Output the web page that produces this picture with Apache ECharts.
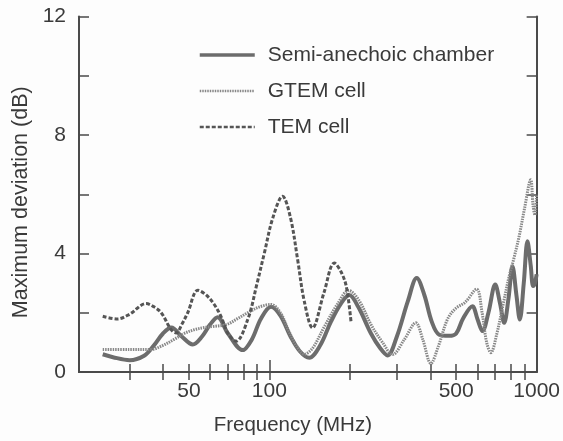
<!DOCTYPE html>
<html><head><meta charset="utf-8">
<script src="https://cdn.jsdelivr.net/npm/echarts@6/dist/echarts.min.js"></script>
<style>html,body{margin:0;padding:0;background:#fff}#c{width:563px;height:441px}</style>
</head><body><div id="c"></div>
<script>
// Frequency (MHz) and maximum deviation (dB)
const sacFreq = [23.8, 26, 30, 34, 37, 40, 43, 47, 51.7, 56, 60, 64, 70, 79.5, 86, 93, 101.5, 110, 120, 130, 141, 155, 170, 185, 199, 215, 240, 260, 277, 300, 330, 356, 380, 405, 432, 470, 500, 530, 575, 600, 627, 660, 700, 730, 756, 785, 812, 840, 865, 895, 924, 950, 970, 985, 1000];
const sacDev  = [0.6, 0.5, 0.4, 0.55, 0.9, 1.3, 1.5, 1.2, 0.93, 1.2, 1.6, 1.85, 1.3, 0.74, 1.1, 1.8, 2.2, 1.9, 1.2, 0.7, 0.48, 0.9, 1.7, 2.3, 2.6, 2.2, 1.3, 0.8, 0.56, 1.2, 2.4, 3.17, 2.6, 1.7, 1.26, 1.22, 1.3, 1.8, 2.22, 1.8, 1.38, 2.0, 2.95, 2.3, 1.66, 2.5, 3.57, 2.6, 1.77, 3.0, 4.41, 3.6, 2.9, 3.0, 3.3];

const gtemFreq = [23.8, 30, 36, 40, 44, 48, 52.5, 57, 62, 69, 76, 83, 92, 101.5, 110, 118, 126, 135, 145, 160, 180, 198, 217, 240, 265, 289, 320, 353, 375, 402, 430, 465, 500, 540, 596, 625, 650, 674, 710, 750, 789, 820, 860, 900, 950, 970, 985, 1000];
const gtemDev  = [0.76, 0.76, 0.76, 0.9, 1.1, 1.3, 1.43, 1.5, 1.54, 1.6, 1.8, 2.0, 2.2, 2.28, 2.0, 1.4, 0.9, 0.6, 0.8, 1.5, 2.3, 2.75, 2.4, 1.6, 1.0, 0.59, 1.1, 1.66, 1.1, 0.29, 0.9, 1.8, 2.16, 2.35, 2.8, 2.0, 1.0, 0.65, 1.3, 2.3, 3.23, 3.8, 4.58, 5.5, 6.49, 5.6, 5.3, 6.0];

const temFreq = [23.8, 27, 30, 34.6, 37, 39.4, 42.9, 44.8, 47, 49.5, 54, 58, 62.3, 65.9, 70, 75, 83, 90, 95.8, 103, 112, 120, 127.6, 135, 145, 160, 175, 185, 194, 202];
const temDev  = [1.88, 1.79, 1.95, 2.31, 2.2, 2.0, 1.43, 1.32, 1.6, 2.0, 2.76, 2.6, 2.27, 1.88, 1.3, 1.04, 1.77, 3.0, 4.02, 5.2, 5.93, 5.2, 3.79, 2.4, 1.49, 2.67, 3.68, 3.4, 2.89, 1.71];

const seriesNames = ['Semi-anechoic chamber', 'GTEM cell', 'TEM cell'];
const xLabelValues = [50, 100, 500, 1000];
const xTickValues = [30, 40, 50, 60, 70, 80, 90, 100, 200, 300, 400, 500, 600, 700, 800, 900];
const xMajorTicks = [100];
const yLabelValues = [0, 4, 8, 12];

const zip = (xs, ys) => xs.map((x, i) => [x, ys[i]]);
const font = '"Liberation Sans", Arial, sans-serif';
const axisColor = '#4a4a4a';
const textColor = '#3a3a3a';

const logAxisBase = {
  type: 'log', logBase: 10, min: 19.4, max: 1000,
  splitLine: { show: false }, minorTick: { show: false }, minorSplitLine: { show: false },
  axisLine: { show: true, lineStyle: { color: axisColor, width: 2 } },
  axisTick: { show: true, inside: true, length: 8, customValues: xTickValues, lineStyle: { color: axisColor, width: 1.5 } },
  axisLabel: { show: false }
};

const option = {
  backgroundColor: '#fdfdfd',
  animation: false,
  grid: { left: 79, right: 24.5, top: 16.5, bottom: 68.5 },
  legend: {
    orient: 'vertical', left: 198, top: 44, padding: 0,
    icon: 'inherit',
    itemStyle: { opacity: 0 },
    itemWidth: 55, itemHeight: 22, itemGap: 14,
    textStyle: { fontSize: 21, fontFamily: font, color: textColor, padding: [0, 0, 0, 8], lineHeight: 22 },
    data: [
      { name: seriesNames[0], lineStyle: { width: 3.5 } },
      { name: seriesNames[1], lineStyle: { width: 2.5 } },
      { name: seriesNames[2], lineStyle: { width: 2.5 } }
    ]
  },
  xAxis: [
    Object.assign({}, logAxisBase, {
      position: 'bottom',
      axisLabel: { show: true, customValues: xLabelValues, fontSize: 21, fontFamily: font, color: textColor, margin: 9,
        formatter: v => String(Math.round(v)) },
      name: 'Frequency (MHz)', nameLocation: 'middle', nameGap: 43,
      nameTextStyle: { fontSize: 20.5, fontFamily: font, color: textColor, padding: [0, 30, 0, 0] }
    }),
    Object.assign({}, logAxisBase, { position: 'top' }),
    Object.assign({}, logAxisBase, {
      position: 'bottom', axisLine: { show: false },
      axisTick: { show: true, inside: true, length: 12, customValues: xMajorTicks, lineStyle: { color: axisColor, width: 1.5 } }
    })
  ],
  yAxis: [
    {
      type: 'value', min: 0, max: 12, interval: 2, position: 'left',
      splitLine: { show: false },
      axisLine: { show: true, lineStyle: { color: axisColor, width: 2 } },
      axisTick: { show: true, inside: true, length: 10, lineStyle: { color: axisColor, width: 1.5 } },
      axisLabel: { customValues: yLabelValues, fontSize: 21, fontFamily: font, color: textColor, margin: 13 },
      name: 'Maximum deviation (dB)', nameLocation: 'middle', nameGap: 46,
      nameTextStyle: { fontSize: 21.5, fontFamily: font, color: textColor, padding: [0, 16, 0, 0] }
    },
    {
      type: 'value', min: 0, max: 12, interval: 2, position: 'right',
      splitLine: { show: false },
      axisLine: { show: true, lineStyle: { color: axisColor, width: 2 } },
      axisTick: { show: true, inside: true, length: 10, lineStyle: { color: axisColor, width: 1.5 } },
      axisLabel: { show: false }
    }
  ],
  series: [
    {
      name: seriesNames[0], type: 'line', smooth: 0.35, symbol: 'none',
      data: zip(sacFreq, sacDev),
      lineStyle: { color: '#6c6c6c', width: 4 }, itemStyle: { color: '#6c6c6c' }
    },
    {
      name: seriesNames[1], type: 'line', smooth: 0.35, symbol: 'none',
      data: zip(gtemFreq, gtemDev),
      lineStyle: { color: '#888888', width: 3, type: [1.5, 1] }, itemStyle: { color: '#888888' }
    },
    {
      name: seriesNames[2], type: 'line', smooth: 0.35, symbol: 'none',
      data: zip(temFreq, temDev),
      lineStyle: { color: '#555555', width: 3, type: [4, 2] }, itemStyle: { color: '#555555' }
    }
  ]
};

const chart = echarts.init(document.getElementById('c'), null, { renderer: 'canvas' });
chart.setOption(option);
</script></body></html>
